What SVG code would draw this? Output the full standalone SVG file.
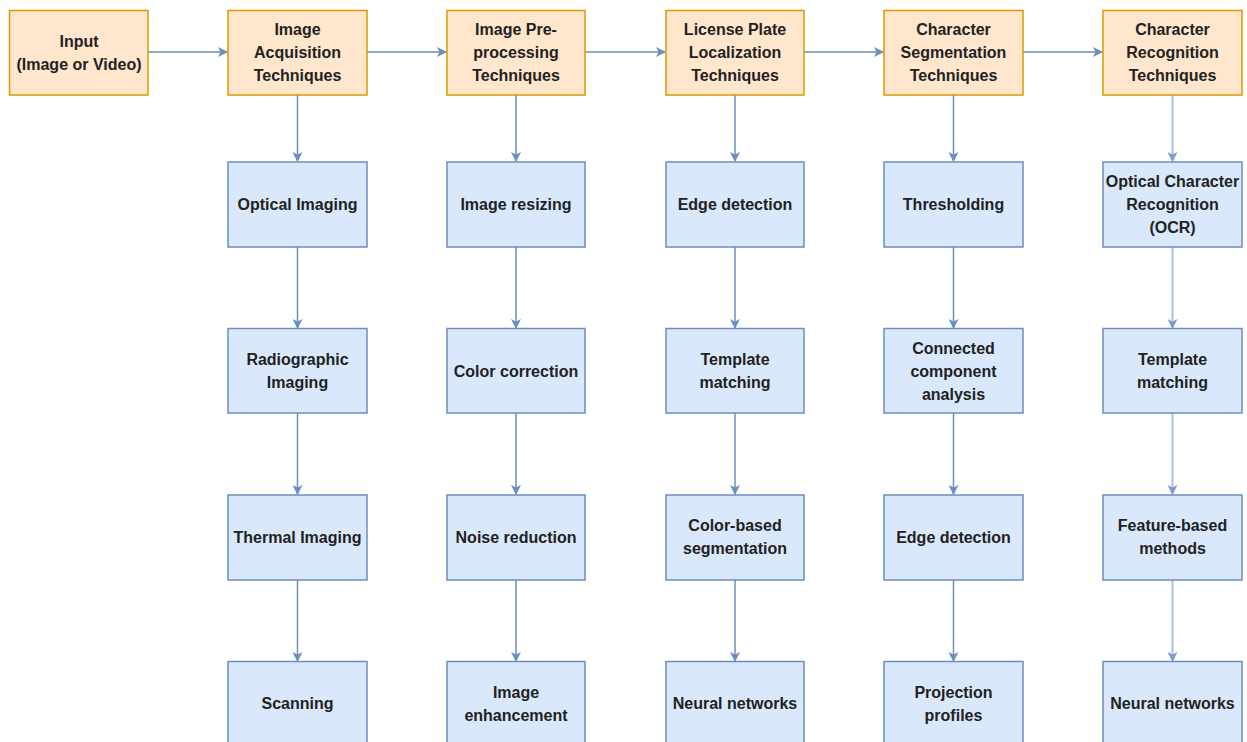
<svg xmlns="http://www.w3.org/2000/svg" width="1247" height="742" viewBox="0 0 1247 742">
<defs>
<style>
.o{fill:#ffe6cc;stroke:#d79b00;stroke-width:1.5}
.b{fill:#dae8fc;stroke:#6c8ebf;stroke-width:1.5}
.t{font-family:"Liberation Sans",Arial,sans-serif;font-size:16px;font-weight:bold;fill:#222;text-anchor:middle;dominant-baseline:central}
.c{fill:none;stroke:#6c8ebf;stroke-width:1.5}
.cl{fill:none;stroke:#a9bfe2;stroke-width:2}
</style>
<marker id="a" viewBox="0 0 10 10" refX="9" refY="5" markerWidth="10" markerHeight="10" markerUnits="userSpaceOnUse" orient="auto">
<path d="M0,0 L10,5 L0,10 L2.5,5 Z" fill="#6c8ebf"/>
</marker>
<marker id="al" viewBox="0 0 10 10" refX="9" refY="5" markerWidth="10" markerHeight="10" markerUnits="userSpaceOnUse" orient="auto">
<path d="M0,0 L10,5 L0,10 L2.5,5 Z" fill="#7d9ccc"/>
</marker>
</defs>
<rect width="1247" height="742" fill="#fff"/>
<g id="connectors">
<path class="c" d="M148,52 H227" marker-end="url(#a)"/>
<path class="c" d="M367,52 H446" marker-end="url(#a)"/>
<path class="c" d="M585,52 H665" marker-end="url(#a)"/>
<path class="c" d="M804,52 H883" marker-end="url(#a)"/>
<path class="c" d="M1023,52 H1102" marker-end="url(#a)"/>
<path class="c" d="M297.5,95 V161" marker-end="url(#a)"/>
<path class="c" d="M297.5,247 V328" marker-end="url(#a)"/>
<path class="c" d="M297.5,413 V494" marker-end="url(#a)"/>
<path class="c" d="M297.5,580 V661" marker-end="url(#a)"/>
<path class="c" d="M516,95 V161" marker-end="url(#a)"/>
<path class="c" d="M516,247 V328" marker-end="url(#a)"/>
<path class="c" d="M516,413 V494" marker-end="url(#a)"/>
<path class="c" d="M516,580 V661" marker-end="url(#a)"/>
<path class="c" d="M735,95 V161" marker-end="url(#a)"/>
<path class="c" d="M735,247 V328" marker-end="url(#a)"/>
<path class="c" d="M735,413 V494" marker-end="url(#a)"/>
<path class="c" d="M735,580 V661" marker-end="url(#a)"/>
<path class="c" d="M953.5,95 V161" marker-end="url(#a)"/>
<path class="c" d="M953.5,247 V328" marker-end="url(#a)"/>
<path class="c" d="M953.5,413 V494" marker-end="url(#a)"/>
<path class="c" d="M953.5,580 V661" marker-end="url(#a)"/>
<path class="cl" d="M1172.5,95 V161" marker-end="url(#al)"/>
<path class="cl" d="M1172.5,247 V328" marker-end="url(#al)"/>
<path class="cl" d="M1172.5,413 V494" marker-end="url(#al)"/>
<path class="cl" d="M1172.5,580 V661" marker-end="url(#al)"/>
</g>
<g id="input"><rect class="o" x="9.5" y="10.5" width="138.5" height="84.5"/><text class="t" x="79" y="41">Input</text><text class="t" x="79" y="64">(Image or Video)</text></g>
<g id="acq"><rect class="o" x="228" y="10.5" width="139" height="84.5"/><text class="t" x="297.5" y="29">Image</text><text class="t" x="297.5" y="52">Acquisition</text><text class="t" x="297.5" y="75">Techniques</text></g>
<g id="pre"><rect class="o" x="447" y="10.5" width="138" height="84.5"/><text class="t" x="516" y="29">Image Pre-</text><text class="t" x="516" y="52">processing</text><text class="t" x="516" y="75">Techniques</text></g>
<g id="lpl"><rect class="o" x="666" y="10.5" width="138" height="84.5"/><text class="t" x="735" y="29">License Plate</text><text class="t" x="735" y="52">Localization</text><text class="t" x="735" y="75">Techniques</text></g>
<g id="seg"><rect class="o" x="884" y="10.5" width="139" height="84.5"/><text class="t" x="953.5" y="29">Character</text><text class="t" x="953.5" y="52">Segmentation</text><text class="t" x="953.5" y="75">Techniques</text></g>
<g id="rec"><rect class="o" x="1103" y="10.5" width="139" height="84.5"/><text class="t" x="1172.5" y="29">Character</text><text class="t" x="1172.5" y="52">Recognition</text><text class="t" x="1172.5" y="75">Techniques</text></g>

<g id="a1"><rect class="b" x="228" y="162" width="139" height="85"/><text class="t" x="297.5" y="204.5">Optical Imaging</text></g>
<g id="a2"><rect class="b" x="228" y="328.5" width="139" height="84.5"/><text class="t" x="297.5" y="359.5">Radiographic</text><text class="t" x="297.5" y="382.5">Imaging</text></g>
<g id="a3"><rect class="b" x="228" y="495" width="139" height="85"/><text class="t" x="297.5" y="537">Thermal Imaging</text></g>
<g id="a4"><rect class="b" x="228" y="661.5" width="139" height="90"/><text class="t" x="297.5" y="703.5">Scanning</text></g>

<g id="p1"><rect class="b" x="447" y="162" width="138" height="85"/><text class="t" x="516" y="204.5">Image resizing</text></g>
<g id="p2"><rect class="b" x="447" y="328.5" width="138" height="84.5"/><text class="t" x="516" y="371">Color correction</text></g>
<g id="p3"><rect class="b" x="447" y="495" width="138" height="85"/><text class="t" x="516" y="537">Noise reduction</text></g>
<g id="p4"><rect class="b" x="447" y="661.5" width="138" height="90"/><text class="t" x="516" y="692">Image</text><text class="t" x="516" y="715">enhancement</text></g>

<g id="l1"><rect class="b" x="666" y="162" width="138" height="85"/><text class="t" x="735" y="204.5">Edge detection</text></g>
<g id="l2"><rect class="b" x="666" y="328.5" width="138" height="84.5"/><text class="t" x="735" y="359.5">Template</text><text class="t" x="735" y="382.5">matching</text></g>
<g id="l3"><rect class="b" x="666" y="495" width="138" height="85"/><text class="t" x="735" y="525.5">Color-based</text><text class="t" x="735" y="548.5">segmentation</text></g>
<g id="l4"><rect class="b" x="666" y="661.5" width="138" height="90"/><text class="t" x="735" y="703.5">Neural networks</text></g>

<g id="s1"><rect class="b" x="884" y="162" width="139" height="85"/><text class="t" x="953.5" y="204.5">Thresholding</text></g>
<g id="s2"><rect class="b" x="884" y="328.5" width="139" height="84.5"/><text class="t" x="953.5" y="348">Connected</text><text class="t" x="953.5" y="371">component</text><text class="t" x="953.5" y="394">analysis</text></g>
<g id="s3"><rect class="b" x="884" y="495" width="139" height="85"/><text class="t" x="953.5" y="537">Edge detection</text></g>
<g id="s4"><rect class="b" x="884" y="661.5" width="139" height="90"/><text class="t" x="953.5" y="692">Projection</text><text class="t" x="953.5" y="715">profiles</text></g>

<g id="r1"><rect class="b" x="1103" y="162" width="139" height="85"/><text class="t" x="1172.5" y="181.5">Optical Character</text><text class="t" x="1172.5" y="204.5">Recognition</text><text class="t" x="1172.5" y="227.5">(OCR)</text></g>
<g id="r2"><rect class="b" x="1103" y="328.5" width="139" height="84.5"/><text class="t" x="1172.5" y="359.5">Template</text><text class="t" x="1172.5" y="382.5">matching</text></g>
<g id="r3"><rect class="b" x="1103" y="495" width="139" height="85"/><text class="t" x="1172.5" y="525.5">Feature-based</text><text class="t" x="1172.5" y="548.5">methods</text></g>
<g id="r4"><rect class="b" x="1103" y="661.5" width="139" height="90"/><text class="t" x="1172.5" y="703.5">Neural networks</text></g>
</svg>
